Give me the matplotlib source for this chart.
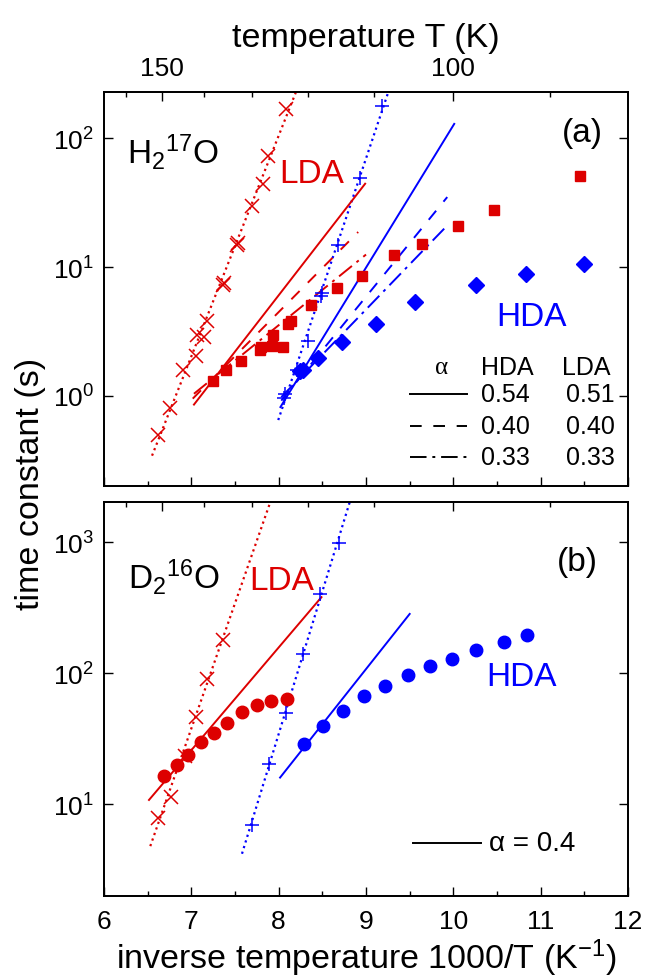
import numpy as np
import matplotlib
matplotlib.use('Agg')
import matplotlib.pyplot as plt
from matplotlib.ticker import MultipleLocator, NullLocator

plt.rcParams['font.family'] = ['Liberation Sans', 'DejaVu Sans']
plt.rcParams['mathtext.fontset'] = 'custom'
plt.rcParams['mathtext.rm'] = 'Liberation Sans'
plt.rcParams['mathtext.it'] = 'Liberation Sans:italic'
plt.rcParams['mathtext.bf'] = 'Liberation Sans:bold'

red = '#dd0000'
blue = '#0000ff'

# ---------- panel (a): H2 17O ----------
a_xcross_x = [6.62, 6.76, 6.91, 7.05, 7.06, 7.15, 7.18, 7.36, 7.37, 7.52, 7.53, 7.70, 7.82, 7.88, 8.08]
a_xcross_y = [0.50, 0.80, 1.58, 2.03, 2.95, 2.87, 3.81, 7.3, 7.5, 14.9, 15.3, 29.5, 44, 73, 169]
a_lda_x = [7.245, 7.394, 7.57, 7.787, 7.80, 7.92, 7.93, 8.047, 8.11, 8.14, 8.37, 8.665,
           8.95, 9.325, 9.64, 10.05, 10.46, 11.45]
a_lda_y = [1.31, 1.58, 1.87, 2.28, 2.38, 2.44, 2.99, 2.40, 3.63, 3.81, 5.04, 6.87,
           8.46, 12.3, 15.2, 20.8, 27.5, 50.7]
a_hda_x = [8.245, 8.28, 8.455, 8.73, 9.12, 9.56, 10.26, 10.83, 11.50]
a_hda_y = [1.56, 1.60, 1.97, 2.62, 3.63, 5.36, 7.2, 8.77, 10.6]
a_plus_x = [8.06, 8.07, 8.21, 8.34, 8.48, 8.50, 8.68, 8.93, 9.18]
a_plus_y = [0.96, 1.04, 1.58, 2.65, 6.0, 6.3, 14.7, 49, 179]

# fit lines (end points)
a_red_dot_x, a_red_dot_y = [6.55, 8.25], [0.344, 280]
a_blue_dot_x, a_blue_dot_y = [7.995, 9.27], [0.65, 244]
a_red_fit_x = [7.03, 8.99]
a_red_solid = [0.857, 44.3]
a_red_dash_x, a_red_dash = [7.016, 8.91], [0.953, 18.7]
a_red_dashdot_x, a_red_dashdot = [7.03, 9.0], [1.04, 12.5]
a_blue_solid_x, a_blue_solid = [8.02, 10.01], [0.82, 129]
a_blue_fit_x = [8.03, 9.93]
a_blue_dash = [0.92, 34.9]
a_blue_dashdot = [0.98, 21]

alpha_hda = ['0.54', '0.40', '0.33']
alpha_lda = ['0.51', '0.40', '0.33']

# ---------- panel (b): D2 16O ----------
b_xcross_x = [6.62, 6.764, 6.93, 7.05, 7.18, 7.36]
b_xcross_y = [7.8, 11.4, 23.3, 46, 91, 180]
b_lda_x = [6.687, 6.833, 6.96, 7.11, 7.26, 7.41, 7.577, 7.75, 7.913, 8.093]
b_lda_y = [16.4, 19.9, 23.7, 30, 35.3, 42, 50.7, 56.9, 61.5, 64]
b_plus_x = [7.70, 7.89, 8.08, 8.276, 8.474, 8.696]
b_plus_y = [7.0, 20.2, 49.8, 141, 403, 982]
b_hda_x = [8.29, 8.505, 8.74, 8.98, 9.22, 9.486, 9.73, 9.99, 10.26, 10.585, 10.84]
b_hda_y = [28.6, 39.6, 51.3, 66.7, 79.8, 96.2, 112.7, 129, 149, 172.6, 196]

b_red_dot_x, b_red_dot_y = [6.53, 7.93], [4.8, 2260]
b_blue_dot_x, b_blue_dot_y = [7.58, 8.83], [4.2, 2190]
b_red_solid_x, b_red_solid = [6.515, 8.49], [10.8, 380]
b_blue_solid_x, b_blue_solid = [8.016, 9.50], [16, 283]

T_major = [150, 100]
T_minor = [160, 140, 130, 120, 110, 90]

dash = (6, 6)
dashdot = (8.5, 3, 1.5, 3)


def style(ax, ylim, yticks, labelbottom):
    ax.set_yscale('log')
    ax.set_xlim(6, 12)
    ax.set_ylim(*ylim)
    ax.set_xticks(range(6, 13))
    ax.xaxis.set_minor_locator(MultipleLocator(0.5))
    ax.set_yticks(yticks)
    ax.yaxis.set_minor_locator(NullLocator())
    ax.tick_params(which='both', direction='in', top=False, right=True,
                   labelsize=19, width=1, labelbottom=labelbottom)
    ax.tick_params(axis='x', which='both', pad=9)
    ax.tick_params(axis='y', which='both', pad=7)
    ax.tick_params(which='major', length=6.5)
    ax.tick_params(which='minor', length=3.5)
    for s in ax.spines.values():
        s.set_linewidth(1.3)


def temp_axis(ax, labels):
    t = ax.twiny()
    t.set_xlim(ax.get_xlim())
    t.set_xticks([1000.0 / T for T in T_major])
    t.set_xticks([1000.0 / T for T in T_minor], minor=True)
    if labels:
        t.set_xticklabels([str(T) for T in T_major])
    else:
        t.set_xticklabels([])
    t.tick_params(which='both', direction='in', labelsize=19, pad=9, width=1)
    t.tick_params(which='major', length=6.5)
    t.tick_params(which='minor', length=3.5)
    for s in t.spines.values():
        s.set_linewidth(1.3)
    return t


fig = plt.figure(figsize=(6.57, 9.78), dpi=100)
axa = fig.add_axes([0.1583, 0.5020, 0.7976, 0.4029])
axb = fig.add_axes([0.1583, 0.0828, 0.7976, 0.4029])

# ----- panel (a)
style(axa, (0.2, 228), [1, 10, 100], False)
axa.plot(a_red_dot_x, a_red_dot_y, ':', color=red, lw=1.6)
axa.plot(a_blue_dot_x, a_blue_dot_y, ':', color=blue, lw=1.6)
axa.plot(a_red_fit_x, a_red_solid, '-', color=red, lw=1.4)
axa.plot(a_red_dash_x, a_red_dash, color=red, lw=1.4, dashes=dash)
axa.plot(a_red_dashdot_x, a_red_dashdot, color=red, lw=1.4, dashes=dashdot)
axa.plot(a_blue_solid_x, a_blue_solid, '-', color=blue, lw=1.4)
axa.plot(a_blue_fit_x, a_blue_dash, color=blue, lw=1.4, dashes=dash)
axa.plot(a_blue_fit_x, a_blue_dashdot, color=blue, lw=1.4, dashes=dashdot)
axa.plot(a_xcross_x, a_xcross_y, 'x', color=red, ms=10, mew=1.1, ls='none')
axa.plot(a_plus_x, a_plus_y, '+', color=blue, ms=10, mew=1.1, ls='none')
axa.plot(a_lda_x, a_lda_y, 's', color=red, ms=7.5, ls='none')
axa.plot(a_hda_x, a_hda_y, 'D', color=blue, ms=8.5, ls='none')

axa.text(0.044, 0.850, r'H$_2$$^{17}$O', transform=axa.transAxes, fontsize=24, va='center')
axa.text(0.335, 0.792, 'LDA', color=red, transform=axa.transAxes, fontsize=24, va='center')
axa.text(0.952, 0.898, '(a)', transform=axa.transAxes, fontsize=24, va='center', ha='right')
axa.text(0.749, 0.431, 'HDA', color=blue, transform=axa.transAxes, fontsize=24, va='center')

# alpha table
axa.text(0.644, 0.302, 'α', transform=axa.transAxes, fontsize=18, va='center', ha='center',
         family=['Liberation Serif', 'DejaVu Serif'])
axa.text(0.72, 0.302, 'HDA', transform=axa.transAxes, fontsize=18, va='center')
axa.text(0.874, 0.302, 'LDA', transform=axa.transAxes, fontsize=18, va='center')
row_y = [0.2335, 0.152, 0.0736]
row_dash = [None, dash, dashdot]
for i in range(3):
    ln, = axa.plot([0.583, 0.693], [row_y[i], row_y[i]], color='k', lw=1.4,
                   transform=axa.transAxes)
    if row_dash[i] is not None:
        ln.set_dashes(row_dash[i])
    axa.text(0.72, row_y[i], alpha_hda[i], transform=axa.transAxes, fontsize=18, va='center')
    axa.text(0.882, row_y[i], alpha_lda[i], transform=axa.transAxes, fontsize=18, va='center')

ta = temp_axis(axa, True)
ta.set_xlabel('temperature T (K)', fontsize=24.5, labelpad=7)

# ----- panel (b)
style(axb, (2.0, 2020), [10, 100, 1000], True)
axb.plot(b_red_dot_x, b_red_dot_y, ':', color=red, lw=1.6)
axb.plot(b_blue_dot_x, b_blue_dot_y, ':', color=blue, lw=1.6)
axb.plot(b_red_solid_x, b_red_solid, '-', color=red, lw=1.4)
axb.plot(b_blue_solid_x, b_blue_solid, '-', color=blue, lw=1.4)
axb.plot(b_xcross_x, b_xcross_y, 'x', color=red, ms=10, mew=1.1, ls='none')
axb.plot(b_plus_x, b_plus_y, '+', color=blue, ms=10, mew=1.1, ls='none')
axb.plot(b_lda_x, b_lda_y, 'o', color=red, ms=9, ls='none')
axb.plot(b_hda_x, b_hda_y, 'o', color=blue, ms=9, ls='none')

axb.text(0.046, 0.812, r'D$_2$$^{16}$O', transform=axb.transAxes, fontsize=24, va='center')
axb.text(0.278, 0.800, 'LDA', color=red, transform=axb.transAxes, fontsize=24, va='center')
axb.text(0.943, 0.848, '(b)', transform=axb.transAxes, fontsize=24, va='center', ha='right')
axb.text(0.730, 0.556, 'HDA', color=blue, transform=axb.transAxes, fontsize=24, va='center')
axb.plot([0.589, 0.72], [0.135, 0.135], color='k', lw=1.4, transform=axb.transAxes)
axb.text(0.735, 0.135, 'α = 0.4', transform=axb.transAxes, fontsize=20, va='center')

temp_axis(axb, False)
axb.set_xlabel(r'inverse temperature 1000/T (K$^{-1}$)', fontsize=24.5, labelpad=3)

fig.text(0.047, 0.505, 'time constant (s)', rotation=90, fontsize=24.5,
         ha='center', va='center')

fig.savefig('out.png', dpi=100)
